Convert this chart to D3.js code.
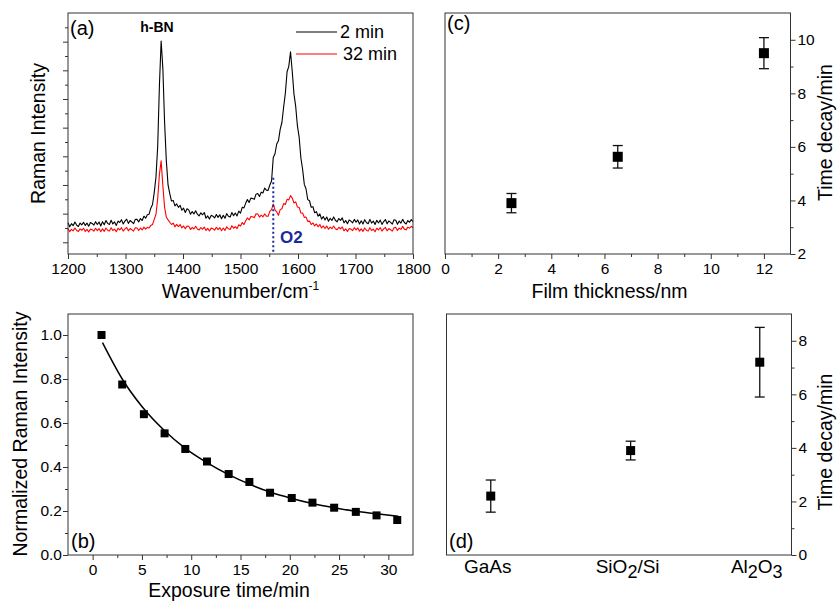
<!DOCTYPE html>
<html>
<head>
<meta charset="utf-8">
<script src="https://cdn.jsdelivr.net/npm/d3@7"></script>
<style>
body { margin: 0; background: #fff; }
svg { font-family: "Liberation Sans", Arial, sans-serif; }
.tick text { font-size: 15.5px; fill: #000; }
.tick line { stroke: #333; }
.ttl { font-size: 19.5px; fill: #000; }
</style>
</head>
<body>
<svg id="fig" width="840" height="602"></svg>
<script>
// ---------- data ----------
// (a) Raman spectra, sampled every 3 cm-1 from 1200 to 1800
var wnStart = 1200, wnStep = 3;
var spec2min = [
1680,1540,1650,1580,1710,1600,1550,1670,1610,1700,
1590,1670,1560,1690,1660,1600,1720,1620,1710,1570,
1720,1610,1760,1660,1620,1770,1640,1710,1590,1740,
1690,1790,1640,1740,1810,1660,1760,1710,1650,1800,
1800,1710,1830,1760,1910,1840,1960,1980,2190,2320,
2740,3280,4350,6480,8020,7050,5180,3850,3000,2700,
2440,2460,2270,2340,2220,2290,2120,2190,2040,2170,
2130,1980,2070,1990,2100,1980,1920,2030,1960,2040,
1840,1920,1810,1940,1910,1850,1970,1870,1960,1820,
1940,1840,2000,1910,1880,2040,1930,2020,1920,2090,
2020,2220,2200,2360,2490,2390,2540,2530,2500,2680,
2700,2600,2750,2720,2890,2820,2810,3000,3140,3960,
4090,4430,4540,4940,5180,5710,6200,6950,7140,7650,
6960,6170,5740,5060,4670,3940,3550,3020,2860,2490,
2450,2220,2240,2030,2070,1910,1990,1810,1900,1780,
1880,1735,1840,1760,1885,1770,1715,1830,1765,1850,
1680,1760,1650,1780,1740,1680,1800,1700,1780,1640,
1750,1640,1790,1690,1650,1800,1670,1740,1620,1770,
1675,1775,1625,1725,1795,1645,1745,1695,1635,1785,
1770,1630,1740,1670,1800,1690,1640,1760,1700,1790,
1720];
var spec32min = [
1480,1370,1450,1400,1500,1410,1380,1470,1420,1490,
1380,1450,1360,1460,1440,1390,1490,1410,1480,1370,
1470,1380,1500,1420,1390,1510,1410,1460,1370,1490,
1430,1510,1390,1470,1520,1400,1480,1440,1390,1510,
1500,1410,1500,1430,1530,1460,1520,1500,1590,1620,
1800,1980,2520,3380,3840,2960,2220,1880,1780,1700,
1620,1670,1540,1625,1550,1620,1500,1570,1470,1570,
1560,1445,1520,1465,1560,1465,1430,1515,1460,1530,
1415,1485,1395,1495,1475,1425,1525,1445,1515,1405,
1500,1415,1540,1470,1450,1580,1490,1550,1475,1610,
1570,1690,1620,1750,1850,1780,1900,1890,1860,1995,
1990,1880,1950,1890,1990,1910,1910,2080,2140,2330,
2130,2060,1940,2140,2170,2350,2320,2500,2480,2630,
2540,2370,2410,2230,2220,2020,2020,1870,1880,1730,
1740,1620,1680,1570,1640,1540,1620,1500,1570,1480,
1570,1455,1530,1475,1570,1475,1440,1525,1470,1535,
1400,1470,1380,1480,1460,1410,1510,1430,1500,1390,
1470,1380,1500,1420,1390,1510,1410,1460,1370,1490,
1430,1510,1390,1470,1520,1400,1480,1440,1390,1510,
1520,1415,1495,1450,1555,1460,1435,1530,1490,1560,
1500];
var specNames = ["2 min", "32 min"];
var specColors = ["#000", "#ff0000"];
var o2Wn = 1557;

// (b) normalized intensity vs exposure time, with fitted decay
var expTime = [0.9, 3.0, 5.2, 7.3, 9.4, 11.6, 13.8, 15.9, 18.0, 20.2, 22.3, 24.5, 26.7, 28.8, 30.9];
var normInt = [1.0, 0.775, 0.64, 0.553, 0.482, 0.425, 0.368, 0.332, 0.283, 0.259, 0.238, 0.215, 0.196, 0.18, 0.159];
var fitTime = [1.0, 3.0, 5.0, 7.3, 9.4, 11.6, 13.8, 15.9, 18.0, 20.2, 22.3, 24.5, 26.7, 28.8, 31.0];
var fitInt  = [0.965, 0.80, 0.675, 0.565, 0.485, 0.42, 0.365, 0.322, 0.286, 0.257, 0.234, 0.215, 0.199, 0.187, 0.176];

// (c) decay time vs film thickness
var thickness = [2.5, 6.5, 12];
var thickDecay = [3.9, 5.63, 9.5];
var thickErr = [0.36, 0.42, 0.58];

// (d) decay time vs substrate
var substrates = ["GaAs", "SiO2/Si", "Al2O3"];
var subPos = [1, 2.04, 3];
var subDecay = [2.2, 3.9, 7.2];
var subErr = [0.6, 0.35, 1.3];

// ---------- helpers ----------
var svg = d3.select("#fig");

function frame(x0, x1, y0, y1) {
	svg.append("rect")
	.attr("x", x0).attr("y", y0)
	.attr("width", x1 - x0).attr("height", y1 - y0)
	.attr("fill", "none")
	.attr("stroke", "#333")
	.attr("stroke-width", 1);
}

function makeAxis(kind, scale, pos, major, minor, fmt, pad) {
	var mk = kind === "bottom" ? d3.axisBottom : (kind === "left" ? d3.axisLeft : d3.axisRight);
	var tr = kind === "bottom" ? "translate(0," + pos + ")" : "translate(" + pos + ",0)";
	svg.append("g").attr("transform", tr)
	.call(mk(scale).tickValues(major).tickSize(5).tickPadding(pad).tickFormat(fmt))
	.call(function(g) { g.select(".domain").remove(); });
	if (minor) {
		svg.append("g").attr("transform", tr)
		.call(mk(scale).tickValues(minor).tickSize(3).tickFormat(""))
		.call(function(g) { g.select(".domain").remove(); });
	}
}

function yTitle(txt, x, y) {
	svg.append("text").attr("class", "ttl")
	.attr("transform", "translate(" + x + "," + y + ") rotate(-90)")
	.attr("text-anchor", "middle")
	.text(txt);
}

function panelTag(txt, x, y) {
	svg.append("text").attr("x", x).attr("y", y)
	.style("font-size", "20px")
	.text(txt);
}

function errPlot(xs, ys, es, xScale, yScale, size) {
	var g = svg.append("g");
	ys.forEach(function(v, i) {
		var cx = xScale(xs[i]);
		g.append("line")
		.attr("x1", cx).attr("x2", cx)
		.attr("y1", yScale(v - es[i])).attr("y2", yScale(v + es[i]))
		.attr("stroke", "#111").attr("stroke-width", 1.3);
		[v - es[i], v + es[i]].forEach(function(e) {
			g.append("line")
			.attr("x1", cx - 5).attr("x2", cx + 5)
			.attr("y1", yScale(e)).attr("y2", yScale(e))
			.attr("stroke", "#111").attr("stroke-width", 1.3);
		});
		g.append("rect")
		.attr("x", cx - size / 2).attr("y", yScale(v) - size / 2)
		.attr("width", size).attr("height", size)
		.attr("fill", "#000");
	});
}

/*------------------ (a) Raman spectra ----------------------*/
var xA = d3.scaleLinear().domain([1200, 1800]).range([68, 413]);
var yA = d3.scaleLinear().domain([592, 9000]).range([254, 13]);

var lineA = d3.line()
.x(function(d, i) { return xA(wnStart + i * wnStep); })
.y(function(d) { return yA(d); });

[spec2min, spec32min].forEach(function(s, k) {
	svg.append("path")
	.attr("d", lineA(s))
	.attr("fill", "none")
	.attr("stroke", specColors[k])
	.attr("stroke-width", 1.1)
	.attr("stroke-linejoin", "round");
});

svg.append("line")
.attr("x1", xA(o2Wn)).attr("x2", xA(o2Wn))
.attr("y1", yA(3250)).attr("y2", 254)
.attr("stroke", "#1a2a9a")
.attr("stroke-width", 2)
.attr("stroke-dasharray", "2,2.5");

svg.append("text")
.attr("x", 280).attr("y", 243)
.style("font-size", "17px").style("font-weight", "bold")
.attr("fill", "#1a2a9a")
.text("O2");

svg.append("text")
.attr("x", 157).attr("y", 32)
.attr("text-anchor", "middle")
.style("font-size", "14px").style("font-weight", "bold")
.text("h-BN");

// legend
specNames.forEach(function(n, k) {
	var ly = 32 + k * 22;
	svg.append("line")
	.attr("x1", 296).attr("x2", 337)
	.attr("y1", ly).attr("y2", ly)
	.attr("stroke", specColors[k]).attr("stroke-width", 1.2);
	svg.append("text")
	.attr("x", k === 0 ? 340 : 343).attr("y", ly + 6)
	.style("font-size", "18px")
	.text(n);
});

frame(68, 413, 13, 254);
makeAxis("bottom", xA, 254, d3.range(1200, 1801, 100), d3.range(1250, 1800, 100), d3.format("d"), 4);
makeAxis("left", yA, 68, d3.range(1000, 8001, 1000), d3.range(1500, 8600, 1000), "", 2);
panelTag("(a)", 70, 35);

var tA = svg.append("text").attr("class", "ttl")
.attr("x", 240.5).attr("y", 297.5)
.attr("text-anchor", "middle");
tA.append("tspan").text("Wavenumber/cm");
tA.append("tspan").attr("dy", -8).style("font-size", "12px").text("-1");
yTitle("Raman Intensity", 45, 133.5);

/*------------------ (b) decay curve ----------------------*/
var xB = d3.scaleLinear().domain([-2.5, 32.5]).range([68, 413]);
var yB = d3.scaleLinear().domain([0, 1.1]).range([555, 313]);

svg.append("path")
.attr("d", d3.line().curve(d3.curveMonotoneX)
	.x(function(d, i) { return xB(fitTime[i]); })
	.y(function(d) { return yB(d); })(fitInt))
.attr("fill", "none")
.attr("stroke", "#000")
.attr("stroke-width", 1.5);

svg.append("g").selectAll("rect")
.data(normInt)
.enter().append("rect")
.attr("x", function(d, i) { return xB(expTime[i]) - 4; })
.attr("y", function(d) { return yB(d) - 4; })
.attr("width", 8).attr("height", 8)
.attr("fill", "#000");

frame(68, 413, 314, 555);
makeAxis("bottom", xB, 555, d3.range(0, 31, 5), d3.range(2.5, 30, 5), d3.format("d"), 4);
makeAxis("left", yB, 68, [0, 0.2, 0.4, 0.6, 0.8, 1.0], [0.1, 0.3, 0.5, 0.7, 0.9], d3.format(".1f"), 1);
panelTag("(b)", 71, 548);

svg.append("text").attr("class", "ttl")
.attr("x", 229).attr("y", 596.5)
.attr("text-anchor", "middle")
.text("Exposure time/min");
yTitle("Normalized Raman Intensity", 27, 434);

/*------------------ (c) thickness ----------------------*/
var xC = d3.scaleLinear().domain([0, 13]).range([445, 790.5]);
var yC = d3.scaleLinear().domain([2, 11]).range([254, 13]);

errPlot(thickness, thickDecay, thickErr, xC, yC, 10);

frame(445, 790.5, 13, 254);
makeAxis("bottom", xC, 254, d3.range(0, 13, 2), d3.range(1, 13, 2), d3.format("d"), 4);
makeAxis("right", yC, 790.5, d3.range(2, 11, 2), d3.range(3, 11, 2), d3.format("d"), 2);
panelTag("(c)", 447, 30);

svg.append("text").attr("class", "ttl")
.attr("x", 609.5).attr("y", 297.5)
.attr("text-anchor", "middle")
.text("Film thickness/nm");
yTitle("Time decay/min", 832, 132.5);

/*------------------ (d) substrate ----------------------*/
var xD = d3.scaleLinear().domain([0.671, 3.236]).range([446.5, 791.5]);
var yD = d3.scaleLinear().domain([0, 9]).range([555, 314]);

errPlot(subPos, subDecay, subErr, xD, yD, 9);

frame(446.5, 791.5, 314, 555);
makeAxis("right", yD, 791.5, d3.range(0, 9, 2), d3.range(1, 9, 2), d3.format("d"), 2);
panelTag("(d)", 449, 548);

substrates.forEach(function(s, i) {
	var t = svg.append("text")
	.attr("x", xD(subPos[i]) - 3).attr("y", 573)
	.attr("text-anchor", "middle")
	.style("font-size", "19px");
	// digits drawn as subscripts
	var parts = s.match(/\d+|\D+/g);
	var low = false;
	parts.forEach(function(p) {
		var isNum = /\d/.test(p);
		var sp = t.append("tspan").text(p);
		if (isNum && !low) { sp.attr("dy", 5).style("font-size", "18px"); low = true; }
		else if (!isNum && low) { sp.attr("dy", -5); low = false; }
		else if (isNum) sp.style("font-size", "18px");
	});
});
yTitle("Time decay/min", 832, 442);
</script>
</body>
</html>
